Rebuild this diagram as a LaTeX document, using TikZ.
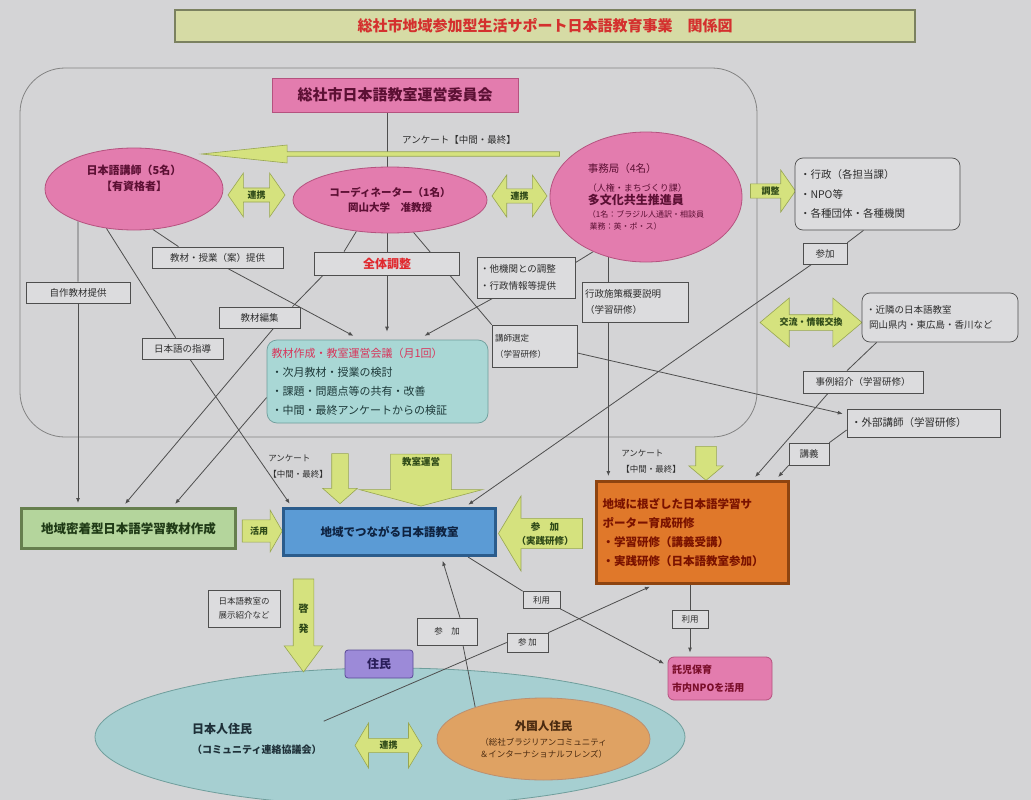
\documentclass[tikz,border=0pt]{standalone}
\usepackage{fontspec}
\setmainfont{Noto Sans CJK JP}
\usetikzlibrary{shapes.geometric,shapes.arrows,arrows.meta}
\pgfdeclarelayer{paper}
\pgfdeclarelayer{wires}
\pgfsetlayers{paper,wires,main}

\definecolor{bgray}{HTML}{D4D4D6}
\definecolor{tagf}{HTML}{DCDCDE}
\definecolor{lgray}{HTML}{4E4E4E}
\definecolor{boxt}{HTML}{2E2E2E}
\definecolor{pinkf}{HTML}{E37CAE}
\definecolor{pinkd}{HTML}{B5527F}
\definecolor{pinkt}{HTML}{5C1034}
\definecolor{agreen}{HTML}{D5E27E}
\definecolor{agreend}{HTML}{98A652}
\definecolor{agreent}{HTML}{2F4A18}
\definecolor{titlef}{HTML}{D6DBA5}
\definecolor{titled}{HTML}{7B8160}
\definecolor{titlet}{HTML}{D4302E}
\definecolor{cyanf}{HTML}{A9D7D5}
\definecolor{cyand}{HTML}{6F9E9C}
\definecolor{kaigit}{HTML}{D8345A}
\definecolor{kaigib}{HTML}{1E3A3A}
\definecolor{greenf}{HTML}{B4D59C}
\definecolor{greend}{HTML}{667F4E}
\definecolor{greent}{HTML}{1F3A16}
\definecolor{bluef}{HTML}{5B9BD5}
\definecolor{blued}{HTML}{2B5C8C}
\definecolor{bluet}{HTML}{0E2240}
\definecolor{orangef}{HTML}{E0782A}
\definecolor{oranged}{HTML}{8E4410}
\definecolor{oranget}{HTML}{7A1200}
\definecolor{takujit}{HTML}{7A0E2A}
\definecolor{zentait}{HTML}{E0282E}
\definecolor{gaikokuf}{HTML}{DFA263}
\definecolor{gaikokut}{HTML}{4A2A10}
\definecolor{residf}{HTML}{A6CFD1}
\definecolor{residt}{HTML}{1E3038}
\definecolor{purplef}{HTML}{9C8AD8}
\definecolor{purpled}{HTML}{5A4A96}
\definecolor{purplet}{HTML}{2A1E5A}

\begin{document}
\begin{tikzpicture}[x=1pt, y=-1pt]
        \tikzstyle{every node}=[text=boxt, inner sep=2pt, font=\fontsize{9.5}{12}\selectfont]
        \tikzstyle{tag}=[draw=lgray, fill=tagf, line width=0.7pt]
        \tikzstyle{pinkell}=[ellipse, draw=pinkd, fill=pinkf, line width=0.8pt, text=pinkt, align=center, inner sep=0pt]
        \tikzstyle{garrow}=[draw=agreend, fill=agreen, line width=0.6pt, text=agreent, inner sep=1pt, align=center, font=\fontsize{9}{11}\selectfont\bfseries]
        \tikzstyle{wire}=[draw=lgray, line width=0.8pt]
        \tikzstyle{arr}=[wire, -{Latex[length=5pt,width=4pt]}, shorten >=4pt]

        \useasboundingbox (0,0) rectangle (1031,800);
        \begin{pgfonlayer}{paper}
            \fill[bgray] (0,0) rectangle (1031,800);
            \draw[draw=lgray!70, line width=0.8pt, rounded corners=45pt] (20,68) rectangle (757,437);
            \node[ellipse, draw=cyand, fill=residf, line width=0.8pt, minimum width=590pt, minimum height=138pt] (jumin) at (390,737) {};
        \end{pgfonlayer}

        % title and committee
        \node[draw=titled, fill=titlef, line width=1.5pt, minimum width=740pt, minimum height=32pt, text=titlet, font=\fontsize{15}{18}\selectfont\bfseries] (ttl) at (545,26) {総社市地域参加型生活サポート日本語教育事業\quad 関係図};
        \node[draw=pinkd, fill=pinkf, line width=0.8pt, minimum width=246pt, minimum height=34pt, text=pinkt, font=\fontsize{15}{18}\selectfont\bfseries] (iinkai) at (395,95) {総社市日本語教室運営委員会};

        % top row
        \node[pinkell, minimum width=178pt, minimum height=82pt, font=\fontsize{11}{16}\selectfont\bfseries] (koushi) at (134,189) {日本語講師（5名）\\【有資格者】\\[6pt]};
        \node[pinkell, minimum width=194pt, minimum height=66pt, font=\fontsize{10.5}{15}\selectfont\bfseries] (coord) at (390,200) {コーディネーター（1名）\\岡山大学\quad 准教授};
        \node[pinkell, minimum width=192pt, minimum height=130pt, align=left] (jimu) at (646,197) {{\fontsize{10.5}{13}\selectfont 事務局（4名）}\\[7pt]{\fontsize{9}{12}\selectfont （人権・まちづくり課）}\\[1pt]{\fontsize{12}{15}\selectfont\bfseries 多文化共生推進員}\\[1pt]{\fontsize{8}{11}\selectfont （1名：ブラジル人通訳・相談員}\\{\fontsize{8}{11}\selectfont \ 業務：英・ポ・ス）}};

        \node[garrow, single arrow, shape border rotate=180, single arrow tip angle=12, single arrow head extend=4pt, minimum width=18pt, minimum height=358pt] (anqL) at (391,154) {};
        \node[font=\fontsize{9.5}{11}\selectfont] (anqLtxt) at (459,140) {アンケート【中間・最終】};
        \node[garrow, double arrow, double arrow tip angle=110, double arrow head extend=12pt, minimum width=44pt, minimum height=57pt] (renkeiA) at (256.5,195) {連携};
        \node[garrow, double arrow, double arrow tip angle=110, double arrow head extend=11pt, minimum width=42pt, minimum height=55pt] (renkeiB) at (519.5,196) {連携};
        \node[garrow, single arrow, single arrow tip angle=110, single arrow head extend=11pt, minimum width=42pt, minimum height=45pt] (chosei) at (770.5,191) {調整};
        \node[garrow, double arrow, double arrow tip angle=80, double arrow head extend=12pt, minimum width=49pt, minimum height=102pt, inner xsep=-8pt] (koryu) at (811,322.5) {交流・情報交換};

        % right side boxes
        \node[tag, rounded corners=8pt, text width=155pt, minimum width=165pt, minimum height=72pt, align=left, font=\fontsize{10.5}{19.5}\selectfont] (gyosei) at (877.5,194) {・行政（各担当課）\\・NPO等\\・各種団体・各種機関};
        \node[tag, minimum width=44pt, minimum height=21pt] (sankaA) at (825,253.5) {参加};
        \node[tag, rounded corners=8pt, text width=148pt, minimum width=156pt, minimum height=49pt, align=left, font=\fontsize{9.5}{15}\selectfont] (kinrin) at (940,317.5) {・近隣の日本語教室\\\ 岡山県内・東広島・香川など};
        \node[tag, minimum width=120pt, minimum height=22pt] (jirei) at (863,382) {事例紹介（学習研修）};
        \node[tag, text width=145pt, minimum width=153pt, minimum height=28pt, align=left, font=\fontsize{10.5}{13}\selectfont] (gaibu) at (923.5,423) {・外部講師（学習研修）};
        \node[tag, minimum width=40pt, minimum height=22pt] (kogi) at (809,454) {講義};

        % inside the frame
        \node[tag, minimum width=131pt, minimum height=21pt] (kyozaiA) at (217.5,257.5) {教材・授業（案）提供};
        \node[tag, minimum width=104pt, minimum height=21pt] (jisaku) at (78,292.5) {自作教材提供};
        \node[tag, minimum width=81pt, minimum height=21pt] (shido) at (182.5,348.5) {日本語の指導};
        \node[tag, minimum width=145pt, minimum height=23pt, text=zentait, font=\fontsize{12}{14}\selectfont\bfseries] (zentai) at (387,263.5) {全体調整};
        \node[tag, minimum width=81pt, minimum height=21pt] (henshu) at (259.5,317.5) {教材編集};
        \node[tag, rounded corners=10pt, draw=cyand, fill=cyanf, text=kaigib, text width=212pt, minimum width=221pt, minimum height=83pt, align=left, font=\fontsize{11}{19}\selectfont] (kaigi) at (377.5,381.5) {\textcolor{kaigit}{教材作成・教室運営会議（月1回）}\\・次月教材・授業の検討\\・課題・問題点等の共有・改善\\・中間・最終アンケートからの検証};
        \node[tag, text width=92pt, minimum width=98pt, minimum height=41pt, align=left, font=\fontsize{9.5}{17}\selectfont] (takikan) at (526,277.5) {・他機関との調整\\・行政情報等提供};
        \node[tag, text width=100pt, minimum width=106pt, minimum height=40pt, align=left, font=\fontsize{9.5}{16}\selectfont] (sesaku) at (635,302) {行政施策概要説明\\（学習研修）};
        \node[tag, text width=79pt, minimum width=85pt, minimum height=42pt, align=left, font=\fontsize{8.5}{16}\selectfont] (sentei) at (534.5,346) {講師選定\\（学習研修）};

        % middle row
        \node[font=\fontsize{8.5}{16}\selectfont, align=left] (anqA) at (298,466) {アンケート\\【中間・最終】};
        \node[garrow, single arrow, shape border rotate=270, single arrow tip angle=97, single arrow head extend=9pt, inner xsep=8pt, minimum width=34pt, minimum height=50pt] (anqDownA) at (340,475) {};
        \node[garrow, single arrow, shape border rotate=270, single arrow tip angle=150, single arrow head extend=31pt, inner xsep=30pt, minimum width=123pt, minimum height=52pt] (unei) at (421,476) {};
        \node[text=agreent, font=\fontsize{9.5}{11}\selectfont\bfseries] (ueiTxt) at (421,462) {教室運営};
        \node[font=\fontsize{8.5}{16}\selectfont, align=left] (anqB) at (651,461) {アンケート\\【中間・最終】};
        \node[garrow, single arrow, shape border rotate=270, single arrow tip angle=100, single arrow head extend=7pt, inner xsep=10pt, minimum width=34pt, minimum height=34pt] (anqDownB) at (706,459) {};

        \node[draw=greend, fill=greenf, line width=3pt, minimum width=214pt, minimum height=40pt, text=greent, font=\fontsize{12.5}{15}\selectfont\bfseries] (kyozaiB) at (128.5,528.5) {地域密着型日本語学習教材作成};
        \node[garrow, single arrow, single arrow tip angle=120, single arrow head extend=5pt, minimum width=42pt, minimum height=40pt] (katsuyo) at (259,531) {活用};
        \node[draw=blued, fill=bluef, line width=3pt, minimum width=212pt, minimum height=47pt, text=bluet, font=\fontsize{11.5}{14}\selectfont\bfseries] (kyoshitsu) at (389.5,532) {地域でつながる日本語教室};
        \node[garrow, single arrow, shape border rotate=180, single arrow tip angle=118, single arrow head extend=19pt, minimum width=75pt, minimum height=84pt, font=\fontsize{9.5}{14}\selectfont\bfseries] (sankaB) at (545,533.5) {参\quad 加\\（実践研修）};
        \node[draw=oranged, fill=orangef, line width=3pt, text width=180pt, minimum width=192pt, minimum height=102pt, align=left, text=oranget, font=\fontsize{11.5}{19}\selectfont\bfseries] (ikusei) at (692.5,532.5) {地域に根ざした日本語学習サ\\ポーター育成研修\\・学習研修（講義受講）\\・実践研修（日本語教室参加）};

        % lower part
        \node[tag, minimum width=37pt, minimum height=17pt, font=\fontsize{8.5}{10}\selectfont] (riyoA) at (541.5,600) {利用};
        \node[tag, minimum width=36pt, minimum height=18pt, font=\fontsize{8.5}{10}\selectfont] (riyoB) at (690,619) {利用};
        \node[draw=pinkd, fill=pinkf, line width=0.8pt, rounded corners=6pt, text width=96pt, minimum width=104pt, minimum height=43pt, align=left, text=takujit, font=\fontsize{10}{18}\selectfont\bfseries] (takuji) at (720,678.5) {託児保育\\市内NPOを活用};
        \node[tag, minimum width=41pt, minimum height=19pt, font=\fontsize{8.5}{10}\selectfont] (sankaC) at (527.5,642.5) {参\ 加};
        \node[tag, minimum width=60pt, minimum height=27pt, font=\fontsize{8.5}{10}\selectfont] (sankaD) at (447,631.5) {参\quad 加};
        \node[tag, minimum width=72pt, minimum height=37pt, align=left, font=\fontsize{8.5}{14}\selectfont] (tenji) at (244,608.5) {日本語教室の\\展示紹介など};
        \node[garrow, single arrow, shape border rotate=270, single arrow tip angle=73, single arrow head extend=9pt, inner xsep=5pt, minimum width=37pt, minimum height=93pt, font=\fontsize{10}{20}\selectfont\bfseries] (keihatsu) at (303.5,618.5) {啓\\発};
        \node[draw=purpled, fill=purplef, line width=0.8pt, rounded corners=3pt, minimum width=68pt, minimum height=28pt, text=purplet, font=\fontsize{12}{14}\selectfont\bfseries] (juminTag) at (379,664) {住民};
        \node[anchor=west, align=left, text=residt, font=\fontsize{10}{20}\selectfont\bfseries] (nihonjin) at (190,739) {{\fontsize{12}{14}\selectfont 日本人住民}\\（コミュニティ連絡協議会）};
        \node[garrow, double arrow, double arrow tip angle=118, double arrow head extend=12pt, minimum width=45pt, minimum height=67pt] (renkeiC) at (388.5,745.5) {連携};
        \node[ellipse, draw=oranged!60, fill=gaikokuf, line width=0.8pt, minimum width=213pt, minimum height=82pt, align=center, text=gaikokut, inner sep=0pt] (gaikoku) at (543.5,739) {{\fontsize{11.5}{14}\selectfont\bfseries 外国人住民}\\[3pt]{\fontsize{8.5}{14}\selectfont （総社ブラジリアンコミュニティ}\\{\fontsize{8.5}{14}\selectfont ＆インターナショナルフレンズ）}};

        % connectors
        \begin{pgfonlayer}{wires}
            \draw[wire] (iinkai.south -| zentai) -- (coord.north -| zentai);
            \draw[arr, shorten >=8pt] (coord.south -| zentai) -- (kaigi.north -| zentai);
            \draw[wire] (coord.-137) -- ([xshift=-43pt]zentai.north);
            \draw[wire] (coord.-54) -- (sentei.north west);
            \draw[wire] (koushi.-65) -- ([xshift=-39pt]kyozaiA.north);
            \draw[arr, shorten >=8pt] ([xshift=10pt]kyozaiA.south) -- ([xshift=-17pt]kaigi.north);
            \draw[wire] (koushi.-150) -- (jisaku.north);
            \draw[arr] (jisaku.south) -- (jisaku.south |- kyozaiB.north);
            \draw[wire] (koushi.-125) -- (shido);
            \draw[arr] (shido) -- ([xshift=10pt]kyoshitsu.north west);
            \draw[wire] ([xshift=-64pt]zentai.south) -- ([xshift=33pt]henshu.north);
            \draw[arr] ([xshift=14pt]henshu.south) -- ([xshift=-6pt]kyozaiB.north);
            \draw[arr] ([yshift=-16pt]kaigi.west) -- ([xshift=44pt]kyozaiB.north);
            \draw[wire] (jimu.-134) -- ([yshift=-6pt]takikan.north east);
            \draw[arr, shorten >=8pt] ([xshift=16pt]takikan.south west) -- ([xshift=40pt]kaigi.north);
            \draw[arr] (jimu.-122) -- (jimu.-122 |- ikusei.north);
            \draw[wire] ([xshift=-14pt]gyosei.south) -- (sankaA.north east);
            \draw[arr] ([xshift=9pt]sankaA.south west) -- ([xshift=-32pt]kyoshitsu.north east);
            \draw[wire] ([xshift=15pt]kinrin.south west) -- ([xshift=-16pt]jirei.north);
            \draw[arr] ([xshift=-35pt]jirei.south) -- ([xshift=60pt]ikusei.north);
            \draw[arr] ([yshift=-7pt]sentei.east) -- ([yshift=-6pt]gaibu.north west);
            \draw[wire] ([yshift=-7pt]gaibu.west) -- (kogi.north east);
            \draw[arr] (kogi.south west) -- ([xshift=83pt]ikusei.north);
            \draw[wire] ([xshift=-29pt]kyoshitsu.south east) -- (riyoA.north west);
            \draw[arr] (riyoA.south east) -- ([yshift=13pt]takuji.west);
            \draw[wire] (ikusei.south -| riyoB) -- (riyoB.north);
            \draw[arr] (riyoB.south) -- (riyoB |- takuji.north);
            \draw[wire] (nihonjin.north east) -- (sankaC.west);
            \draw[arr] (sankaC.north east) -- ([xshift=-39pt]ikusei.south);
            \draw[wire] (gaikoku.155) -- ([xshift=16pt]sankaD.south);
            \draw[arr] ([xshift=13pt]sankaD.north) -- ([xshift=52pt]kyoshitsu.south);
        \end{pgfonlayer}
    \end{tikzpicture}
\end{document}
